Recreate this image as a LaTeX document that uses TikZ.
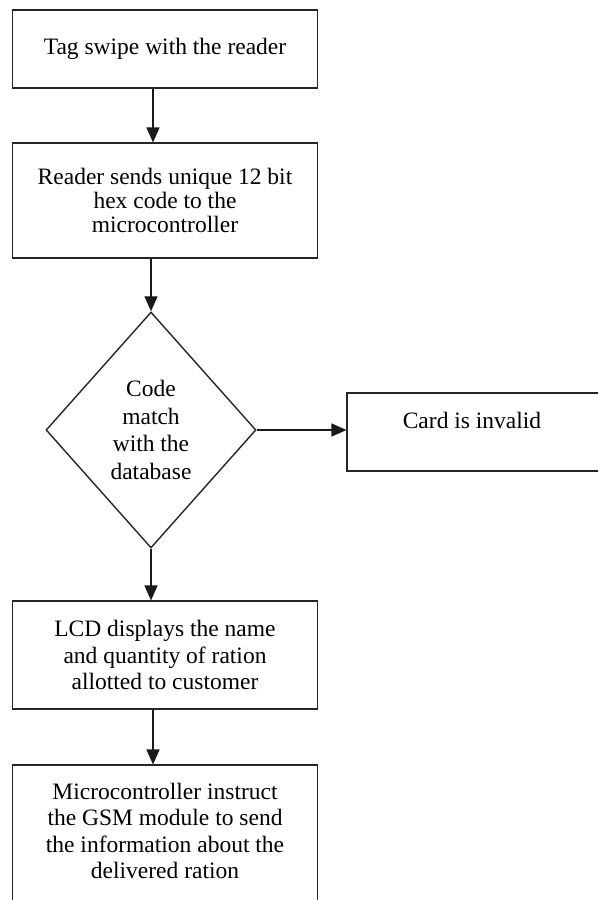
\documentclass[tikz,border=0pt]{standalone}
\usepackage{fontspec}
\setmainfont{Liberation Serif}
\usetikzlibrary{shapes.geometric,arrows.meta}
\tikzset{
  stepbox/.style={draw=black!85, line width=1.1pt, minimum width=305pt, align=center, inner sep=0pt, font=\fontsize{23.5pt}{26.5pt}\selectfont},
  decbox/.style={draw=black!85, line width=1.4pt, shape=diamond, minimum width=210pt, minimum height=236pt, inner sep=0pt, align=center, font=\fontsize{23.5pt}{27.5pt}\selectfont},
  txt/.style={align=center, inner sep=0pt, font=\fontsize{23.5pt}{26.5pt}\selectfont},
  flow/.style={line width=1.3pt, draw=black!90, -{Triangle[length=15pt,width=13pt]}}
}
\begin{document}
\begin{tikzpicture}[x=1pt,y=-1pt]
\useasboundingbox (0,0) rectangle (598,900);
\fill[white] (0,0) rectangle (598,900);
\clip (0,0) rectangle (598,900);
\node[stepbox, minimum height=78pt] (b1) at (165,49) {Tag swipe with the reader};
\node[stepbox, minimum height=115pt, font=\fontsize{23.5pt}{24pt}\selectfont] (b2) at (165,200.5) {Reader sends unique 12 bit\\hex code to the\\microcontroller};
\node[decbox] (d) at (151,430) {Code\\match\\with the\\database};
\node[draw=black!85, line width=1.1pt, minimum width=270pt, minimum height=78pt, inner sep=0pt] (card) at (482,432) {};
\node[txt] (cardtxt) at (472,420) {Card is invalid};
\node[stepbox, minimum height=108pt] (b3) at (165,655) {LCD displays the name\\and quantity of ration\\allotted to customer};
\node[stepbox, minimum height=160pt, text depth=40pt] (b4) at (165,845) {};
\node[txt] (b4txt) at (165,831) {Microcontroller instruct\\the GSM module to send\\the information about the\\delivered ration};
\draw[flow] (b1.south -| 153,0) -- (b2.north -| 153,0);
\draw[flow] (b2.south -| 151,0) -- (d.north);
\draw[flow] (d.east) -- (d.east -| card.west);
\draw[flow] (d.south) -- (b3.north -| d.south);
\draw[flow] (b3.south -| 153,0) -- (b4.north -| 153,0);
\end{tikzpicture}
\end{document}
